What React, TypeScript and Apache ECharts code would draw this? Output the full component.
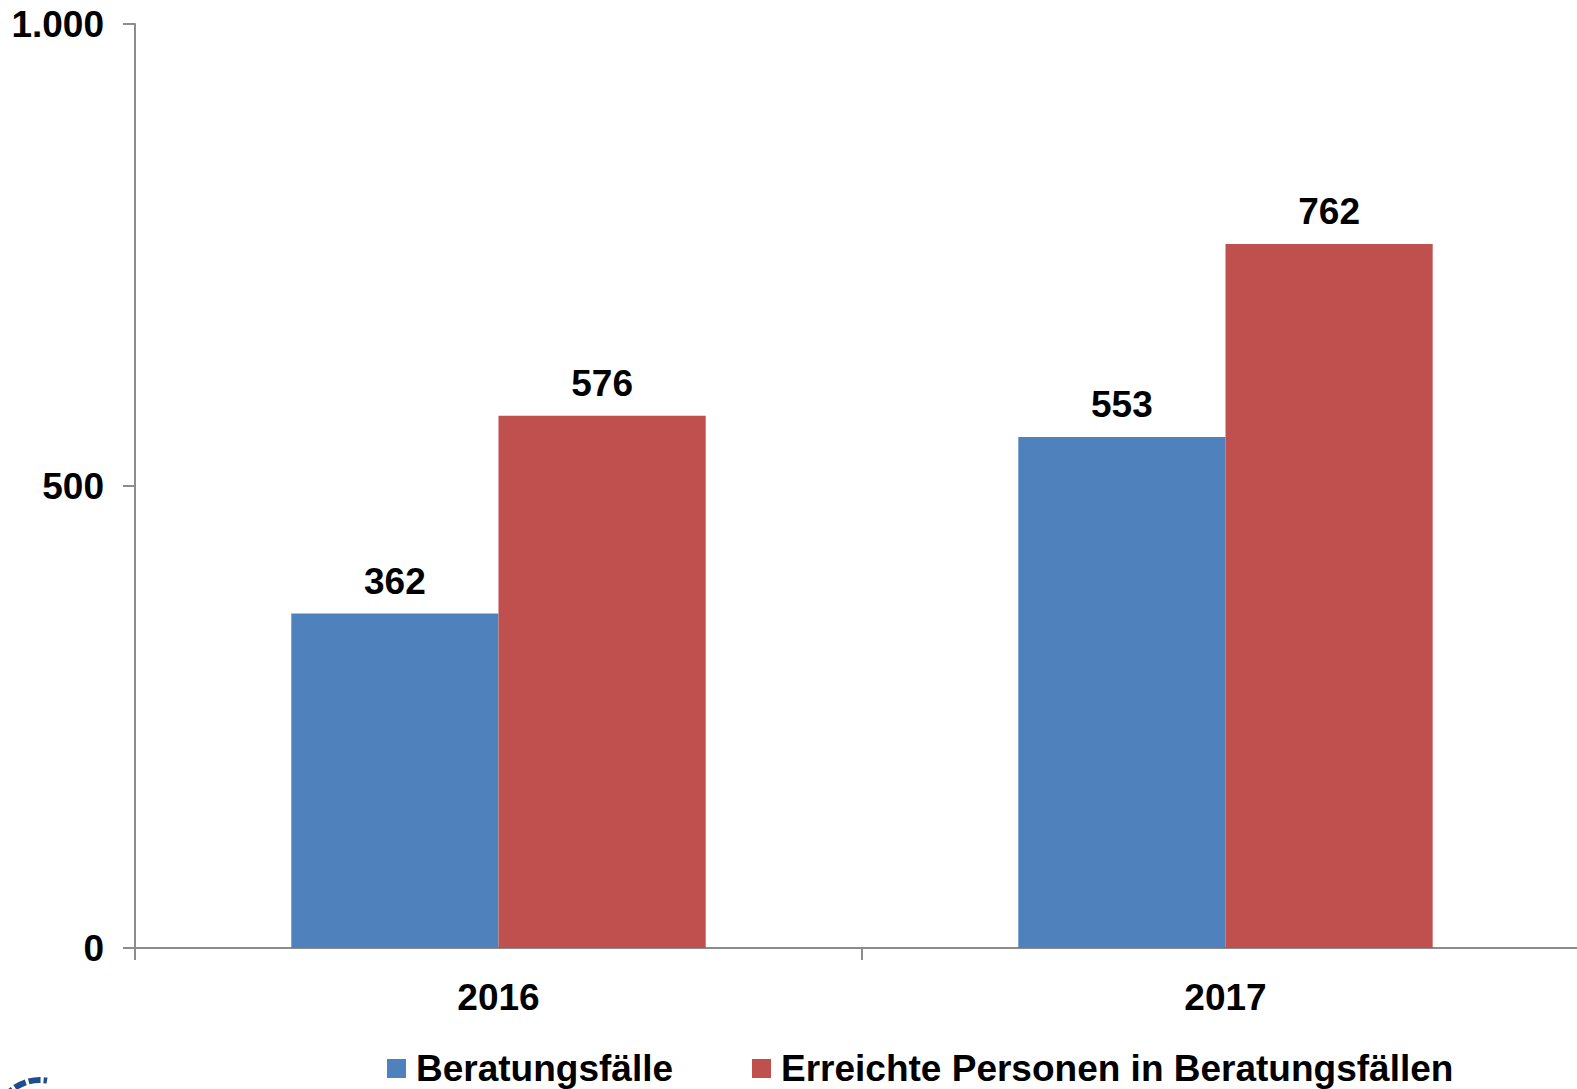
import React, { useEffect, useRef } from "react";
import * as echarts from "echarts";

const categories = ["2016", "2017"];
const seriesNames = ["Beratungsfälle", "Erreichte Personen in Beratungsfällen"];
const beratungsfaelle = [362, 553];
const erreichtePersonen = [576, 762];
const yTicks = [0, 500, 1000];

const FONT = "'Liberation Sans', Arial, sans-serif";
const FS = 37;

export default function App() {
  const ref = useRef<HTMLDivElement>(null);
  useEffect(() => {
    const chart = echarts.init(ref.current!, null, { renderer: "svg" });
    const labelStyle = {
      show: true,
      position: "top",
      distance: 14,
      color: "#000",
      fontSize: FS,
      fontWeight: "bold",
      fontFamily: FONT,
    };
    chart.setOption({
      animation: false,
      backgroundColor: "#ffffff",
      grid: {
        left: 135,
        top: 24,
        width: 1454,
        height: 924,
        containLabel: false,
        outerBoundsMode: "none",
      },
      legend: {
        left: 387,
        top: 1050,
        padding: 0,
        itemGap: 79,
        itemWidth: 19,
        itemHeight: 19,
        icon: "rect",
        data: seriesNames,
        textStyle: {
          color: "#000",
          fontSize: FS,
          fontWeight: "bold",
          fontFamily: FONT,
          padding: [0, 0, 0, 5],
        },
      },
      xAxis: {
        type: "category",
        data: categories,
        axisLine: { lineStyle: { color: "#8c8c8c", width: 2 } },
        axisTick: { show: true, length: 12, lineStyle: { color: "#8c8c8c", width: 2 } },
        axisLabel: {
          margin: 31,
          color: "#000",
          fontSize: FS,
          fontWeight: "bold",
          fontFamily: FONT,
        },
      },
      yAxis: {
        type: "value",
        min: yTicks[0],
        max: yTicks[yTicks.length - 1],
        interval: yTicks[1] - yTicks[0],
        splitLine: { show: false },
        axisLine: { show: true, lineStyle: { color: "#8c8c8c", width: 2 } },
        axisTick: { show: true, length: 12, lineStyle: { color: "#8c8c8c", width: 2 } },
        axisLabel: {
          margin: 31,
          color: "#000",
          fontSize: FS,
          fontWeight: "bold",
          fontFamily: FONT,
          formatter: (v: number) => v.toLocaleString("de-DE"),
        },
      },
      series: [
        {
          name: seriesNames[0],
          type: "bar",
          data: beratungsfaelle,
          barGap: "0%",
          barCategoryGap: "43%",
          itemStyle: { color: "#4F81BD" },
          label: labelStyle,
        },
        {
          name: seriesNames[1],
          type: "bar",
          data: erreichtePersonen,
          barGap: "0%",
          barCategoryGap: "43%",
          itemStyle: { color: "#C0504D" },
          label: labelStyle,
        },
      ],
      graphic: [
        {
          type: "arc",
          shape: { cx: 40, cy: 1125, r: 45, startAngle: Math.PI * 1.1, endAngle: Math.PI * 1.55 },
          style: { stroke: "#1F4E8F", lineWidth: 6, fill: "none", lineDash: [12, 3] },
          silent: true,
        },
      ],
    });
    return () => chart.dispose();
  }, []);
  return (
    <div
      ref={ref}
      style={{ position: "fixed", left: 0, top: 0, width: 1577, height: 1089, overflow: "hidden" }}
    />
  );
}
